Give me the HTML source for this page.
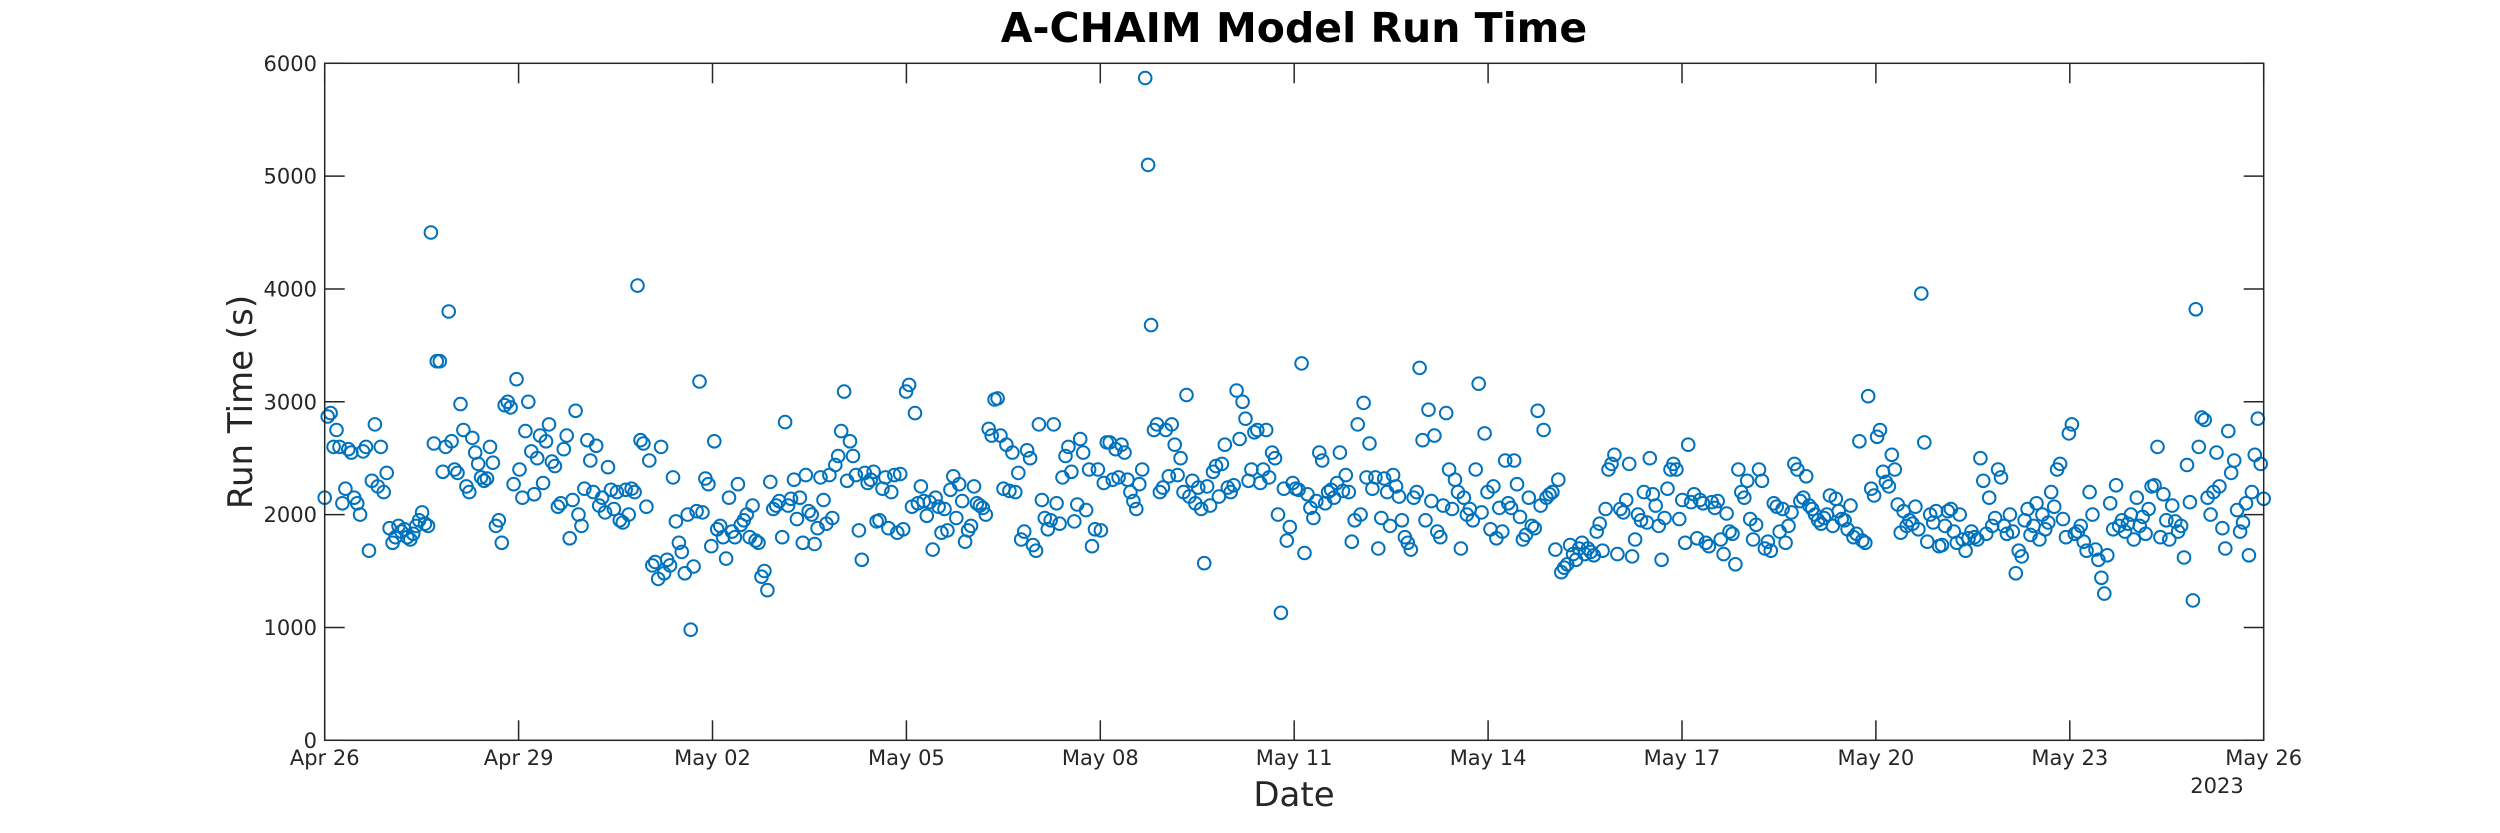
<!DOCTYPE html>
<html><head><meta charset="utf-8"><title>A-CHAIM Model Run Time</title>
<style>html,body{margin:0;padding:0;background:#fff}svg{display:block;font-family:"DejaVu Sans","Liberation Sans",sans-serif}</style>
</head><body>
<svg id="chart" width="2500" height="833" viewBox="0 0 2500 833" xmlns="http://www.w3.org/2000/svg">
<rect x="0" y="0" width="2500" height="833" fill="#fff"/>
<text x="1294" y="42" text-anchor="middle" font-size="41" font-weight="bold" fill="#000">A-CHAIM Model Run Time</text>
<g id="plot"></g>
<text x="1294" y="806" text-anchor="middle" font-size="34" fill="#262626">Date</text>
<text x="0" y="0" transform="translate(252,402) rotate(-90)" text-anchor="middle" font-size="34" fill="#262626">Run Time (s)</text>
<text x="2217" y="793" text-anchor="middle" font-size="21" fill="#262626">2023</text>
</svg>
<script>
const xTickLabels = ["Apr 26","Apr 29","May 02","May 05","May 08","May 11","May 14","May 17","May 20","May 23","May 26"];
const xTickDays = [0,3,6,9,12,15,18,21,24,27,30];
const yTickValues = [0,1000,2000,3000,4000,5000,6000];
const startDay = 0;
const endDay = 30;
const runTimes = [
2150,2870,2900,2600,2750,2600,2100,2230,2580,2550,2150,2100,2000,2560,2600,1680,2300,2800,2250,2600,2200,2370,1880,1750,
1800,1900,1850,1870,1800,1780,1830,1900,1950,2020,1920,1900,4500,2630,3360,3360,2380,2600,3800,2650,2400,2370,2980,2750,
2250,2200,2680,2550,2450,2330,2300,2320,2600,2460,1900,1950,1750,2970,3000,2950,2270,3200,2400,2150,2740,3000,2560,2180,
2500,2700,2280,2650,2800,2470,2430,2070,2100,2580,2700,1790,2130,2920,2000,1900,2230,2660,2480,2200,2610,2080,2150,2020,
2420,2220,2050,2200,1950,1930,2220,2000,2230,2200,4030,2660,2630,2070,2480,1550,1580,1430,2600,1480,1600,1550,2330,1940,
1750,1670,1480,2000,980,1540,2030,3180,2020,2320,2270,1720,2650,1870,1900,1800,1610,2150,1850,1800,2270,1910,1950,2000,
1800,2080,1770,1750,1450,1500,1330,2290,2050,2080,2120,1800,2820,2080,2140,2310,1960,2150,1750,2350,2030,2000,1740,1880,
2330,2130,1920,2350,1970,2440,2520,2740,3090,2300,2650,2520,2350,1860,1600,2370,2280,2310,2380,1940,1950,2230,2330,1880,
2200,2350,1840,2360,1870,3090,3150,2070,2900,2100,2250,2120,1990,2110,1690,2150,2070,1840,2050,1860,2220,2340,1970,2270,
2120,1760,1860,1900,2250,2100,2080,2060,2000,2760,2700,3020,3030,2700,2230,2620,2210,2550,2200,2370,1780,1850,2570,2500,
1730,1680,2800,2130,1970,1870,1950,2800,2100,1920,2330,2520,2600,2380,1940,2090,2670,2550,2040,2400,1720,1870,2400,1860,
2280,2640,2640,2310,2580,2330,2620,2550,2310,2200,2120,2050,2270,2400,5870,5100,3680,2750,2800,2200,2240,2750,2340,2800,
2620,2350,2500,2200,3060,2160,2300,2100,2240,2050,1570,2250,2080,2380,2430,2160,2450,2620,2240,2200,2260,3100,2670,3000,
2850,2300,2400,2730,2750,2280,2400,2750,2330,2550,2500,2000,1130,2230,1770,1890,2280,2230,2220,3340,1660,2180,2060,1970,
2120,2550,2480,2100,2200,2220,2150,2280,2550,2210,2350,2200,1760,1950,2800,2000,2990,2330,2630,2230,2330,1700,1970,2320,
2200,1900,2350,2250,2160,1950,1800,1750,1690,2150,2200,3300,2660,1950,2930,2120,2700,1850,1800,2080,2900,2400,2050,2310,
2200,1700,2150,2000,2050,1950,2400,3160,2020,2720,2200,1870,2250,1790,2060,1850,2480,2100,2060,2480,2270,1980,1780,1820,
2150,1900,1880,2920,2080,2750,2150,2180,2200,1690,2310,1490,1530,1560,1730,1650,1600,1700,1750,1650,1700,1670,1640,1850,
1920,1680,2050,2400,2450,2530,1650,2050,2020,2130,2450,1630,1780,2000,1950,2200,1930,2500,2180,2080,1900,1600,1970,2230,
2400,2450,2400,1960,2130,1750,2620,2110,2180,1790,2130,2100,1750,1720,2110,2060,2120,1780,1650,2010,1850,1830,1560,2400,
2200,2150,2300,1960,1780,1910,2400,2300,1700,1760,1680,2100,2070,1850,2050,1750,1900,2020,2450,2400,2120,2150,2340,2080,
2050,2000,1950,1920,1970,2000,2170,1900,2140,2030,1960,1950,1870,2080,1800,1830,2650,1770,1750,3050,2230,2170,2690,2750,
2380,2290,2250,2530,2400,2090,1840,2030,1900,1950,1920,2070,1870,3960,2640,1760,2000,1930,2030,1720,1730,1900,2030,2050,
1850,1750,2000,1780,1680,1790,1850,1800,1780,2500,2300,1830,2150,1900,1970,2400,2330,1900,1830,2000,1850,1480,1680,1630,
1950,2050,1820,1900,2100,1780,2000,1870,1930,2200,
2070,2400,2450,1960,1800,2720,2800,1830,1850,1900,1760,1680,2200,2000,1690,1600,1440,1300,1640,2100,1870,2260,1900,1950,
1850,1920,2000,1780,2150,1900,1980,1830,2050,2250,
2260,2600,1800,2180,1950,1780,2080,1940,1850,1900,1620,2440,2110,1240,3820,2600,2860,2840,2150,2000,2200,2550,2250,1880,
1700,2740,2370,2480,2040,1850,1930,2100,1640,2200,2530,2850,2450,2140
];

const NS = "http://www.w3.org/2000/svg";
const X0 = 324.7, X1 = 2263.7, Y0 = 740.3, Y1 = 63.3;
const yMax = 6000;
function xScale(d){ return X0 + (d - startDay) / (endDay - startDay) * (X1 - X0); }
function yScale(v){ return Y0 - v / yMax * (Y0 - Y1); }
const plot = document.getElementById('plot');
function mk(tag, attrs){ const e = document.createElementNS(NS, tag); for (const k in attrs) e.setAttribute(k, attrs[k]); return e; }

const pts = mk('g', {});


plot.appendChild(pts);
const n = runTimes.length;
runTimes.forEach((v, i) => {
  const d = startDay + i * (endDay - startDay) / (n - 1);
  const c = mk('circle', {cx: xScale(d).toFixed(1), cy: yScale(v).toFixed(1), r: 6.3, fill: 'none', stroke: '#0072BD', 'stroke-width': 2});
  
  
  pts.appendChild(c);
});

const box = mk('rect', {x: X0, y: Y1, width: X1 - X0, height: Y0 - Y1, fill: 'none', stroke: '#262626', 'stroke-width': 1.5});


plot.appendChild(box);

xTickDays.forEach((d, i) => {
  const x = xScale(d);
  const t1 = mk('line', {x1: x, x2: x, y1: Y0, y2: Y0 - 20, stroke: '#262626', 'stroke-width': 1.5});
  
  
  plot.appendChild(t1);
  const t2 = mk('line', {x1: x, x2: x, y1: Y1, y2: Y1 + 20, stroke: '#262626', 'stroke-width': 1.5});
  
  
  plot.appendChild(t2);
  const tx = mk('text', {x: x, y: 765, 'text-anchor': 'middle', 'font-size': 21, fill: '#262626'});
  tx.textContent = xTickLabels[i];
  
  
  plot.appendChild(tx);
});

yTickValues.forEach(v => {
  const y = yScale(v);
  const t1 = mk('line', {x1: X0, x2: X0 + 20, y1: y, y2: y, stroke: '#262626', 'stroke-width': 1.5});
  
  
  plot.appendChild(t1);
  const t2 = mk('line', {x1: X1, x2: X1 - 20, y1: y, y2: y, stroke: '#262626', 'stroke-width': 1.5});
  
  
  plot.appendChild(t2);
  const tx = mk('text', {x: 317, y: y + 7.5, 'text-anchor': 'end', 'font-size': 21, fill: '#262626'});
  tx.textContent = String(v);
  
  
  plot.appendChild(tx);
});
</script>
</body></html>
